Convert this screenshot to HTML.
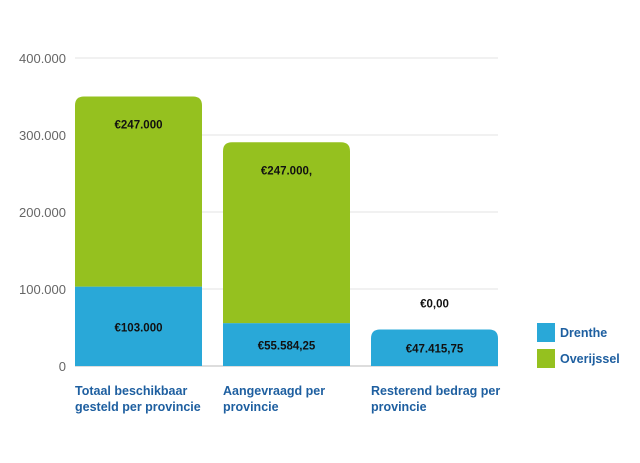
<!DOCTYPE html>
<html><head><meta charset="utf-8"><style>
body{margin:0;background:#fff;width:640px;height:463px;overflow:hidden}
svg{display:block;font-family:"Liberation Sans",sans-serif}
</style></head><body>
<svg id="chart" width="640" height="463" viewBox="0 0 640 463"></svg>
<script>
const categories=[["Totaal beschikbaar","gesteld per provincie"],["Aangevraagd per","provincie"],["Resterend bedrag per","provincie"]];
const drentheValues=[103000,55584.25,47415.75];
const overijsselValues=[247000,235000,0];
const drentheLabels=["€103.000","€55.584,25","€47.415,75"];
const overijsselLabels=["€247.000","€247.000,","€0,00"];
const yTicks=[0,100000,200000,300000,400000];
const yTickLabels=["0","100.000","200.000","300.000","400.000"];
const seriesNames=["Drenthe","Overijssel"];

const NS="http://www.w3.org/2000/svg";
const svg=document.getElementById("chart");
const y0=366,y1=58,vmax=400000,plotL=75,plotR=498,barW=127,step=148;
const y=v=>y0-(v/vmax)*(y0-y1);
const xb=i=>plotL+i*step;
function mk(tag,attrs,parent){const e=document.createElementNS(NS,tag);for(const k in attrs)e.setAttribute(k,attrs[k]);(parent||svg).appendChild(e);return e;}
yTicks.forEach((t,i)=>{
  const l=mk("line",{x1:plotL,x2:plotR,y1:y(t),y2:y(t),stroke:i===0?"#bbb":"#e3e3e3","stroke-width":1});
  
  
  const tx=mk("text",{x:66,y:y(t)+5,"text-anchor":"end","font-size":13,fill:"#666"});
  tx.textContent=yTickLabels[i];
  
  
});
function roundTop(x,yt,w,h,r){r=Math.min(r,h);return `M${x},${yt+h}V${yt+r}Q${x},${yt} ${x+r},${yt}H${x+w-r}Q${x+w},${yt} ${x+w},${yt+r}V${yt+h}Z`;}
categories.forEach((c,i)=>{
  const x=xb(i),d=drentheValues[i],o=overijsselValues[i];
  const top=y(d+o);
  if(o>0){
    const p=mk("path",{d:roundTop(x,top,barW,y(d)-top,9),fill:"#95c11f"});
    
    
    const b=mk("rect",{x:x,y:y(d),width:barW,height:y0-y(d),fill:"#29a8d8"});
    
    
  } else {
    const b=mk("path",{d:roundTop(x,y(d),barW,y0-y(d),9),fill:"#29a8d8"});
    
    
  }
  const dl=mk("text",{x:x+barW/2,y:(y(d)+y0)/2+5,"text-anchor":"middle","font-size":11.5,"font-weight":"bold",fill:"#111"});
  dl.textContent=drentheLabels[i];
  
  
  const oy=o>0?top+27:y(d)-27;
  const ol=mk("text",{x:x+barW/2,y:oy+5,"text-anchor":"middle","font-size":11.5,"font-weight":"bold",fill:"#111"});
  ol.textContent=overijsselLabels[i];
  
  
  c.forEach((line,j)=>{
    const t=mk("text",{x:x,y:395+j*16,"font-size":12.5,"font-weight":"bold",fill:"#1e5fa0"});
    t.textContent=line;
    
    
  });
});
const colors=["#29a8d8","#95c11f"];
seriesNames.forEach((n,i)=>{
  const r=mk("rect",{x:537,y:323+i*26,width:18,height:19,fill:colors[i]});
  
  
  const t=mk("text",{x:560,y:337+i*26,"font-size":12.5,"font-weight":"bold",fill:"#1e5fa0"});
  t.textContent=n;
  
  
});
</script>
</body></html>
